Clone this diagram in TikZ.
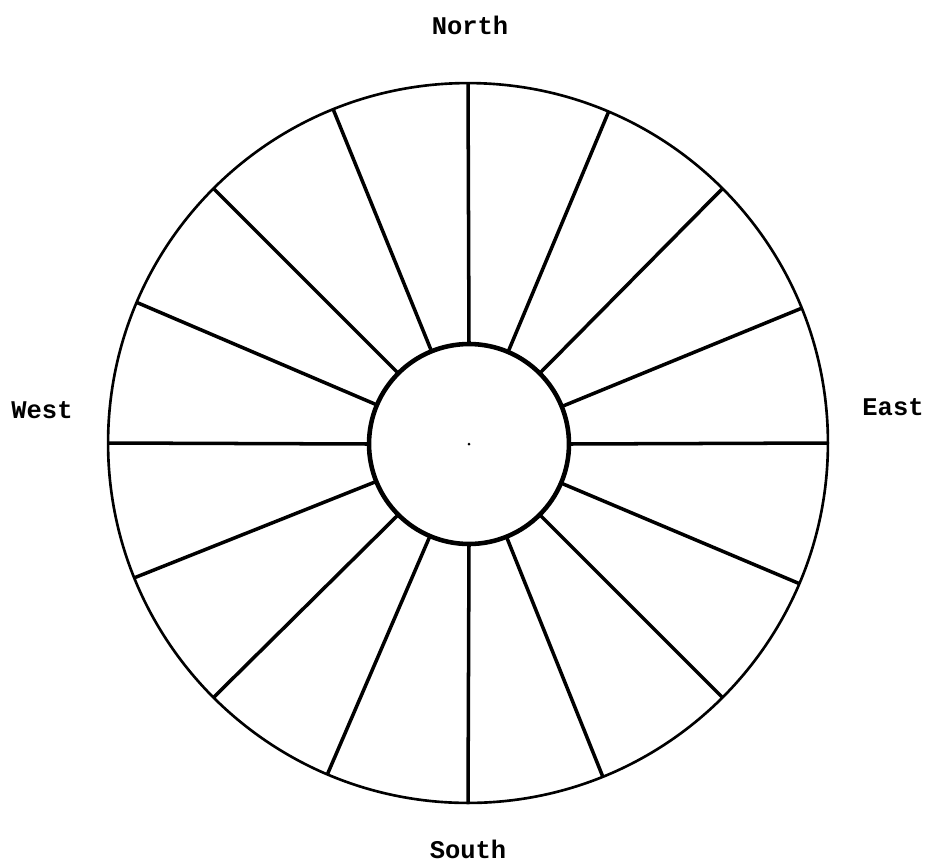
\documentclass[tikz,border=0pt]{standalone}
\usepackage{fontspec}
\setmonofont{Liberation Mono}
\usetikzlibrary{positioning}

\begin{document}
\begin{tikzpicture}[
  x=0.02cm, y=-0.02cm,
  rim/.style={draw, circle, line width=1.5pt, minimum size=14.4cm, inner sep=0pt, outer sep=0pt},
  hub/.style={draw, circle, line width=2.6pt, minimum size=4cm, inner sep=0pt, outer sep=0pt},
  spoke/.style={line width=2pt},
  dir/.style={font=\fontsize{14.5}{16}\selectfont\ttfamily\bfseries, inner sep=0pt},
]
\useasboundingbox (0,0) rectangle (927,863);
\node[rim] (rim) at (468,443) {};
\node[hub] (hub) at (469,444) {};
\fill (hub.center) circle (1.5);
\foreach \a in {0,22.5,...,337.5}
  \draw[spoke] (hub.\a) -- (rim.\a);
\node[dir] (north) at (470,25)  {North};
\node[dir] (south) at (468,849) {South};
\node[dir] (west)  at (42,410)  {West};
\node[dir] (east)  at (893,407) {East};
\end{tikzpicture}
\end{document}
